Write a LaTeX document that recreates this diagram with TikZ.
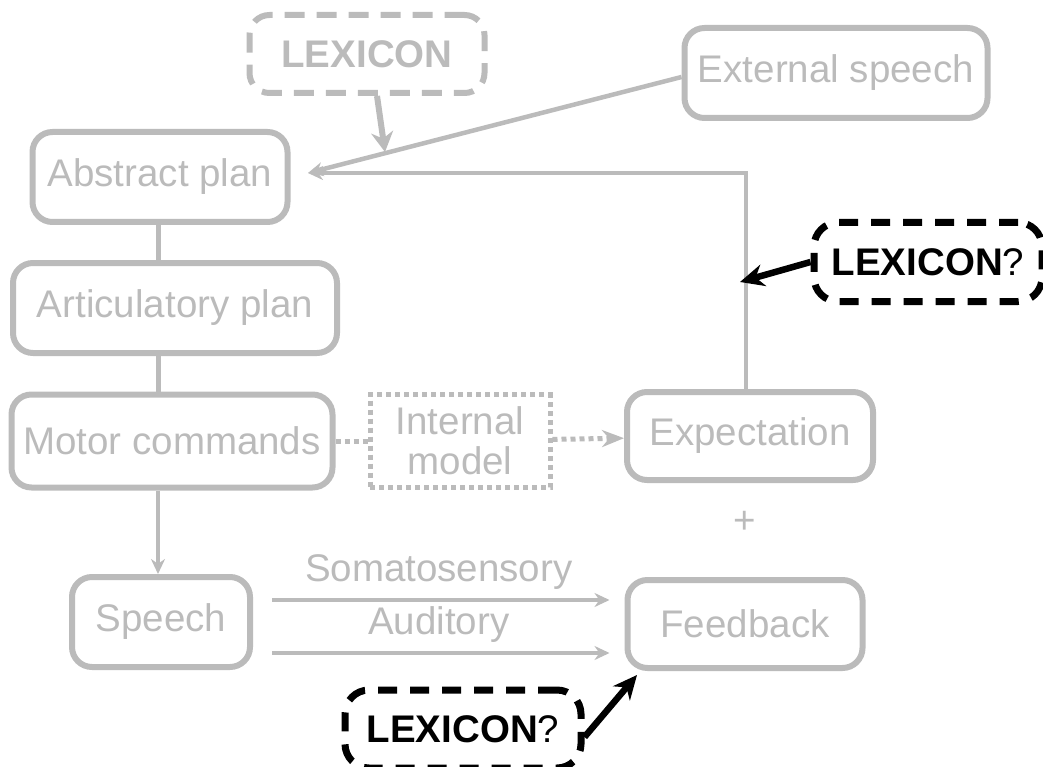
\documentclass[tikz,border=0pt]{standalone}
\usepackage{fontspec}
\setmainfont{Liberation Sans}
\usetikzlibrary{arrows.meta}
\definecolor{fadegray}{RGB}{187,187,187}

\begin{document}
\begin{tikzpicture}[
    x=1pt, y=-1pt,
    font=\fontsize{38.5}{40}\selectfont,
    procbox/.style={draw=fadegray, line width=6pt, text=fadegray, rounded corners=20pt, inner sep=0pt, align=center},
    lexgray/.style={procbox, dash pattern=on 20pt off 12pt, font=\fontsize{38.5}{40}\selectfont\bfseries},
    lexblack/.style={draw=black, line width=7pt, dash pattern=on 19pt off 13pt, rounded corners=24pt, inner sep=0pt, text=black},
    modelbox/.style={procbox, line width=5pt, dash pattern=on 5pt off 4pt, rounded corners=0pt},
    plainline/.style={draw=fadegray, line width=5pt},
    grayarrow/.style={-{Stealth[length=15pt, width=14pt]}, draw=fadegray, line width=4.5pt},
    dotarrow/.style={-{Stealth[length=22pt, width=17pt]}, draw=fadegray, line width=5pt, dash pattern=on 5pt off 4pt},
    lexarrow/.style={-{Stealth[length=20pt, width=22pt]}, draw=fadegray, line width=6pt},
    darkarrow/.style={-{Stealth[length=24pt, width=22pt]}, draw=black, line width=6.5pt}
]
    \useasboundingbox (0,0) rectangle (1043,767);

    \node[lexgray, minimum width=235pt, minimum height=78pt] (lextop) at (367,54) {LEXICON};
    \node[procbox, minimum width=303pt, minimum height=90pt] (external) at (836,73) {External speech};
    \node[procbox, minimum width=255pt, minimum height=90pt] (abstract) at (160,177) {Abstract plan};
    \node[procbox, minimum width=324pt, minimum height=90pt] (artic) at (175,308) {Articulatory plan};
    \node[procbox, minimum width=321pt, minimum height=93pt] (motor) at (172,441) {Motor commands};
    \node[modelbox, minimum width=180pt, minimum height=93pt] (model) at (460,441) {Internal\\model};
    \node[procbox, minimum width=246pt, minimum height=88pt] (expect) at (750,436) {Expectation};
    \node[text=fadegray] (plus) at (745,522) {+};
    \node[procbox, minimum width=178pt, minimum height=90pt] (speech) at (161,622) {Speech};
    \node[procbox, minimum width=235pt, minimum height=88pt] (feedback) at (745,624) {Feedback};
    \node[lexblack, minimum width=228pt, minimum height=79pt] (lexright) at (928,262) {\textbf{LEXICON}?};
    \node[lexblack, minimum width=236pt, minimum height=78pt] (lexbottom) at (463,729) {\textbf{LEXICON}?};

    \coordinate (join) at (308,173);
    \coordinate (diaghit) at (385,152);
    \coordinate (vhit) at (740,282);
    \coordinate (fhit) at (637,675);

    \draw[plainline] ([xshift=-2pt]abstract.south) -- ([xshift=-2pt]abstract.south |- artic.north);
    \draw[plainline] ([xshift=-17pt]artic.south) -- ([xshift=-17pt]artic.south |- motor.north);
    \draw[grayarrow] ([xshift=-14pt]motor.south) -- ([xshift=-14pt]motor.south |- speech.north);
    \draw[plainline, dash pattern=on 5pt off 4pt] (motor) -- (model);
    \draw[dotarrow] (model) -- (expect);
    \draw[grayarrow, shorten <=19pt, shorten >=15pt] ([yshift=22pt]speech.east) -- node[above, text=fadegray, inner sep=8pt] {Somatosensory} ([yshift=24pt]feedback.west);
    \draw[grayarrow, shorten <=19pt, shorten >=15pt] ([yshift=-31pt]speech.east) -- node[above, text=fadegray, inner sep=8pt] {Auditory} ([yshift=-29pt]feedback.west);
    \draw[grayarrow] ([xshift=-4pt]expect.north) |- (join);
    \draw[grayarrow] ([yshift=-4pt]external.west) -- (join);
    \draw[lexarrow] ([xshift=10pt]lextop.south) -- (diaghit);
    \draw[darkarrow] (lexright.west) -- (vhit);
    \draw[darkarrow] ([yshift=-8pt]lexbottom.east) -- (fhit);
\end{tikzpicture}
\end{document}
